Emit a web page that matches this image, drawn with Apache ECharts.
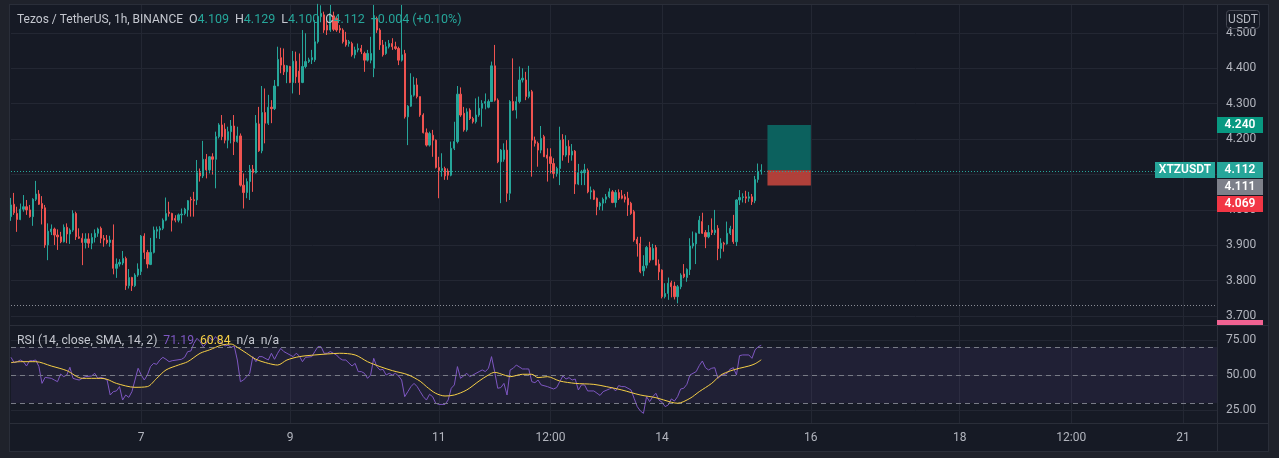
<!DOCTYPE html>
<html><head><meta charset="utf-8">
<script src="https://cdn.jsdelivr.net/npm/echarts@6/dist/echarts.min.js"></script>
<style>
html,body{margin:0;padding:0;background:#1f222b;width:1279px;height:458px;overflow:hidden}
#frame{position:absolute;left:9px;top:4px;width:1258px;height:446px;background:#161a25;border:1px solid #2a2e39}
.sep{position:absolute;background:#2a2e39}
#chart{position:absolute;left:0;top:0;width:1279px;height:458px}
</style></head><body>
<div id="frame"></div>
<div class="sep" style="left:9px;top:325px;width:1259px;height:1px"></div>
<div class="sep" style="left:9px;top:423px;width:1259px;height:1px"></div>
<div class="sep" style="left:1217px;top:4px;width:1px;height:447px"></div>
<div id="chart"></div>
<script>
// ---------- DATA ----------
// hourly categories: index 0 = day 5 06:00
const nCategories = 390;
const categories = Array.from({length: nCategories}, (_, i) => String(i));
const tickIdx = [42, 90, 138, 174, 210, 258, 306, 342, 378];
const tickLabels = ['7', '9', '11', '12:00', '14', '16', '18', '12:00', '21'];
const priceTicks = [3.7, 3.8, 3.9, 4.0, 4.1, 4.2, 4.3, 4.4, 4.5];
const rsiTicks = [25, 50, 75];
const symbolName = 'XTZUSDT';
const titleText = 'Tezos / TetherUS, 1h, BINANCE';
const rsiTitle = 'RSI (14, close, SMA, 14, 2)';

// [open, close, low, high]
const candles = [
[3.981,4.014,3.969,4.034],[4.016,3.992,3.986,4.048],[3.990,3.973,3.938,4.009],[3.973,4.002,3.971,4.018],
[4.002,4.009,3.995,4.042],[4.009,4.000,3.986,4.028],[4.000,3.981,3.978,4.014],[3.981,4.030,3.955,4.033],
[4.030,4.045,4.025,4.082],[4.045,4.016,4.014,4.056],[4.018,4.004,3.959,4.039],[4.006,3.901,3.893,4.014],
[3.901,3.940,3.858,3.962],[3.938,3.946,3.929,3.959],[3.946,3.929,3.901,3.950],[3.929,3.924,3.887,3.945],
[3.924,3.910,3.906,3.938],[3.910,3.951,3.908,3.959],[3.951,3.932,3.906,3.962],[3.932,3.943,3.904,3.948],
[3.943,3.990,3.938,3.999],[3.990,3.924,3.915,3.995],[3.924,3.920,3.918,3.948],[3.920,3.908,3.844,3.934],
[3.908,3.918,3.891,3.934],[3.918,3.906,3.893,3.934],[3.906,3.922,3.889,3.934],[3.922,3.934,3.908,3.945],
[3.934,3.946,3.924,3.950],[3.948,3.920,3.906,3.953],[3.920,3.915,3.896,3.929],[3.915,3.908,3.903,3.929],
[3.908,3.915,3.896,3.927],[3.915,3.835,3.818,3.959],[3.835,3.847,3.808,3.863],[3.847,3.852,3.840,3.861],
[3.850,3.863,3.844,3.884],[3.863,3.786,3.774,3.868],[3.786,3.809,3.778,3.833],[3.809,3.786,3.771,3.811],
[3.786,3.816,3.782,3.821],[3.816,3.833,3.811,3.849],[3.826,3.926,3.816,3.929],[3.926,3.880,3.861,3.934],
[3.880,3.847,3.835,3.887],[3.846,3.880,3.844,3.921],[3.880,3.943,3.877,3.953],[3.940,3.945,3.920,3.953],
[3.943,3.948,3.918,3.954],[3.948,3.971,3.943,3.976],[3.971,3.990,3.968,4.035],[3.994,3.990,3.981,4.023],
[3.990,3.971,3.939,3.992],[3.976,3.971,3.965,3.985],[3.971,3.986,3.965,3.990],[3.986,3.988,3.962,4.004],
[3.990,4.002,3.985,4.006],[4.000,4.026,3.981,4.028],[4.030,4.028,3.981,4.037],[4.029,4.026,3.981,4.051],
[4.028,4.105,4.014,4.141],[4.105,4.096,4.080,4.117],[4.096,4.143,4.090,4.195],[4.143,4.113,4.089,4.158],
[4.113,4.150,4.103,4.152],[4.150,4.143,4.100,4.160],[4.143,4.207,4.061,4.221],[4.207,4.240,4.202,4.245],
[4.240,4.207,4.197,4.268],[4.228,4.197,4.188,4.245],[4.197,4.221,4.174,4.235],[4.221,4.237,4.188,4.254],
[4.237,4.193,4.155,4.268],[4.193,4.209,4.190,4.235],[4.209,4.070,4.066,4.216],[4.070,4.049,4.004,4.103],
[4.049,4.080,4.033,4.089],[4.080,4.115,4.028,4.127],[4.115,4.105,4.051,4.127],[4.105,4.245,4.103,4.268],
[4.243,4.167,4.164,4.291],[4.167,4.275,4.160,4.350],[4.275,4.245,4.188,4.343],[4.245,4.290,4.240,4.325],
[4.290,4.286,4.245,4.310],[4.286,4.350,4.282,4.367],[4.350,4.425,4.350,4.461],[4.430,4.409,4.386,4.458],
[4.409,4.390,4.381,4.456],[4.390,4.407,4.358,4.409],[4.405,4.360,4.358,4.407],[4.360,4.420,4.329,4.449],
[4.420,4.376,4.358,4.447],[4.392,4.360,4.325,4.442],[4.360,4.405,4.358,4.508],[4.405,4.419,4.400,4.499],
[4.419,4.424,4.415,4.430],[4.424,4.430,4.412,4.452],[4.424,4.475,4.418,4.536],[4.475,4.546,4.470,4.582],
[4.546,4.555,4.530,4.578],[4.551,4.508,4.500,4.560],[4.522,4.508,4.494,4.536],[4.508,4.555,4.503,4.579],
[4.548,4.510,4.505,4.560],[4.541,4.508,4.503,4.546],[4.513,4.508,4.500,4.522],[4.508,4.475,4.470,4.513],
[4.480,4.466,4.461,4.503],[4.470,4.475,4.461,4.480],[4.470,4.438,4.433,4.475],[4.438,4.452,4.428,4.461],
[4.452,4.456,4.445,4.470],[4.456,4.447,4.440,4.466],[4.442,4.423,4.390,4.447],[4.423,4.442,4.419,4.452],
[4.423,4.442,4.414,4.489],[4.400,4.541,4.375,4.579],[4.541,4.508,4.500,4.546],[4.508,4.466,4.452,4.513],
[4.466,4.438,4.433,4.480],[4.442,4.461,4.438,4.475],[4.461,4.470,4.456,4.480],[4.470,4.461,4.452,4.485],
[4.461,4.456,4.452,4.475],[4.456,4.423,4.409,4.461],[4.423,4.438,4.419,4.579],[4.442,4.263,4.258,4.452],
[4.263,4.293,4.183,4.296],[4.293,4.324,4.291,4.386],[4.324,4.353,4.320,4.376],[4.353,4.320,4.315,4.372],
[4.320,4.268,4.263,4.320],[4.268,4.218,4.216,4.273],[4.218,4.183,4.179,4.230],[4.183,4.216,4.179,4.221],
[4.211,4.197,4.150,4.226],[4.197,4.120,4.117,4.199],[4.120,4.111,4.033,4.150],[4.111,4.117,4.094,4.160],
[4.117,4.096,4.085,4.122],[4.110,4.098,4.085,4.117],[4.098,4.174,4.095,4.193],[4.174,4.193,4.169,4.249],
[4.193,4.327,4.188,4.350],[4.327,4.268,4.263,4.346],[4.273,4.226,4.221,4.291],[4.226,4.277,4.221,4.287],
[4.282,4.258,4.254,4.287],[4.258,4.249,4.244,4.263],[4.249,4.268,4.244,4.315],[4.268,4.287,4.263,4.320],
[4.287,4.301,4.235,4.310],[4.301,4.306,4.284,4.329],[4.290,4.306,4.287,4.312],[4.306,4.407,4.306,4.419],
[4.407,4.310,4.306,4.466],[4.310,4.136,4.132,4.315],[4.136,4.169,4.019,4.172],[4.143,4.169,4.136,4.188],
[4.169,4.047,4.023,4.197],[4.047,4.306,4.028,4.310],[4.306,4.282,4.280,4.428],[4.282,4.306,4.258,4.320],
[4.306,4.367,4.301,4.405],[4.367,4.372,4.360,4.400],[4.367,4.320,4.310,4.390],[4.320,4.334,4.315,4.407],
[4.334,4.197,4.094,4.339],[4.197,4.188,4.179,4.207],[4.188,4.169,4.122,4.193],[4.169,4.202,4.160,4.237],
[4.207,4.150,4.150,4.212],[4.155,4.146,4.080,4.174],[4.150,4.131,4.103,4.174],[4.131,4.103,4.089,4.146],
[4.103,4.117,4.094,4.122],[4.117,4.197,4.070,4.235],[4.199,4.155,4.139,4.214],[4.155,4.180,4.150,4.211],
[4.179,4.155,4.133,4.197],[4.155,4.166,4.139,4.186],[4.166,4.073,4.045,4.169],[4.073,4.105,4.070,4.130],
[4.105,4.108,4.070,4.113],[4.105,4.113,4.070,4.130],[4.111,4.051,4.047,4.117],[4.051,4.054,4.030,4.066],
[4.054,4.030,4.028,4.058],[4.033,4.009,3.985,4.035],[4.011,4.019,4.000,4.023],[4.019,4.030,3.998,4.035],
[4.030,4.037,4.019,4.045],[4.037,4.051,4.033,4.061],[4.051,4.021,4.019,4.056],[4.021,4.049,4.007,4.056],
[4.049,4.033,4.028,4.058],[4.040,4.033,4.030,4.056],[4.037,4.030,4.021,4.045],[4.033,4.014,3.983,4.051],
[4.019,3.990,3.986,4.023],[3.995,3.915,3.910,4.000],[3.917,3.904,3.868,3.924],[3.905,3.825,3.821,3.924],
[3.828,3.841,3.813,3.872],[3.844,3.894,3.835,3.898],[3.894,3.858,3.851,3.910],[3.860,3.891,3.858,3.904],
[3.894,3.844,3.844,3.901],[3.847,3.825,3.802,3.860],[3.830,3.755,3.750,3.832],[3.755,3.764,3.750,3.793],
[3.764,3.793,3.746,3.809],[3.794,3.783,3.753,3.800],[3.785,3.755,3.747,3.797],[3.755,3.783,3.736,3.788],
[3.783,3.816,3.776,3.821],[3.819,3.811,3.807,3.847],[3.809,3.832,3.797,3.835],[3.832,3.898,3.816,3.920],
[3.898,3.906,3.891,3.939],[3.904,3.934,3.847,3.936],[3.934,3.971,3.932,3.983],[3.967,3.934,3.932,3.992],
[3.936,3.924,3.892,3.943],[3.924,3.936,3.920,3.957],[3.943,3.936,3.929,3.976],[3.936,3.943,3.929,4.000],
[3.948,3.891,3.858,3.957],[3.891,3.906,3.863,3.920],[3.906,3.903,3.882,3.910],[3.904,3.934,3.902,3.967],
[3.934,3.948,3.929,3.955],[3.945,3.910,3.904,3.986],[3.910,4.028,3.898,4.030],[4.028,4.035,4.014,4.056],
[4.035,4.037,4.021,4.047],[4.037,4.033,4.019,4.054],[4.033,4.037,4.023,4.051],[4.037,4.023,4.014,4.045],
[4.026,4.086,4.019,4.096],[4.086,4.108,4.077,4.131],[4.109,4.112,4.100,4.129]
];

// RSI readings: [category index, value]
const rsiPoints = [
[0,62.6],[1,58.8],[2,59.5],[3,60.7],[4,59.5],[5,56.4],[6,60.2],[7,60.2],[8,60.7],[9,56],[10,44],[11,48.3],
[13,47.6],[14,46.4],[15,45.2],[16,50.7],[17,48.8],[18,50],[19,55.5],[20,47.6],[21,46.9],[22,46.4],[23,47.6],
[24,48.8],[26,49.3],[27,51.2],[28,47.6],[29,48.3],[30,47.6],[31,46.4],[32,35.7],[33,38.1],[34,38.6],[35,41.7],
[36,32.1],[37,35.7],[38,34],[39,38.1],[41,54.8],[42,50],[43,46.4],[44,50],[45,56],[46,58.3],[47,57.6],[48,60.7],
[49,62.6],[50,61.2],[51,59.5],[52,60.2],[55,61.2],[56,62.6],[57,66.7],[58,67.1],[59,72.6],[60,76.2],[61,73.8],
[62,70.2],[63,72.6],[64,76.9],[65,74.5],[66,77.4],[67,74.5],[69,70.7],[70,71.4],[71,69.8],[72,70.7],[73,60.7],
[74,45.2],[75,46.4],[76,48.8],[77,51.2],[78,63.1],[79,59.5],[80,63.1],[81,63.1],[83,60.7],[84,65.5],[85,61.2],
[86,65.5],[87,69],[88,66.7],[89,65.5],[90,64.3],[91,63.1],[92,65.5],[93,63.6],[94,59.5],[95,62.6],[97,63.1],
[98,66.7],[99,70.2],[100,70.2],[101,65.5],[102,65.5],[103,66.7],[104,65.5],[105,64.3],[106,61.9],[107,60.7],
[108,60.7],[110,56.4],[111,58.3],[112,52.4],[113,52.4],[114,51.2],[115,47.6],[116,50],[117,61.9],[118,56],
[119,53.6],[120,54],[121,50],[122,51.2],[123,50],[124,51.2],[125,49.3],[126,46.4],[127,34.5],[128,38.1],
[129,41.7],[130,44],[131,41.7],[132,38.1],[133,34.5],[134,32.1],[135,36.2],[136,34.5],[137,29.8],[138,29],
[140,29],[141,32.1],[142,40.5],[143,42.9],[144,56],[145,47.6],[147,51.2],[148,48.8],[149,50],[151,52.4],
[152,53.6],[153,52.4],[154,54.8],[155,63.1],[156,52.4],[157,40.5],[158,41],[159,44],[160,35.7],[161,53.6],
[162,54.8],[163,57.1],[165,54.3],[166,54.3],[167,54.3],[168,45.2],[169,44.5],[170,46.4],[171,42.9],[173,41.7],
[175,40],[176,41],[177,45.2],[178,49.3],[179,47.1],[180,48.1],[181,46.4],[182,47.1],[183,39.3],[184,42.9],
[185,42.9],[186,38.6],[188,38.6],[190,35.4],[191,38.1],[193,40],[194,41],[195,38.6],[196,42.4],[197,41.7],
[198,41.7],[200,39.3],[201,33.3],[202,27.4],[203,24.3],[204,22.6],[205,34.5],[206,31],[207,34.5],[208,36.9],
[209,32.1],[210,30.5],[211,27.4],[212,28.6],[213,32.9],[214,31.4],[215,34.5],[216,40],[217,40.5],[218,43.3],
[219,50],[221,52.4],[222,56.7],[223,60],[224,55.2],[225,53.6],[226,54.8],[227,55.2],[228,47.6],[229,49.5],
[231,51.2],[232,54.3],[233,55.2],[234,50],[235,63.8],[236,64.3],[238,64.3],[239,61.9],[240,67.9],[241,70.2],
[242,71.19]
];

// RSI-based SMA readings: [category index, value]
const rsiMaPoints = [
[0,58.8],[3,59.5],[8,59.5],[13,56.4],[18,53.1],[23,47.6],[29,47.6],[31,46.9],[34,44],[40,41.2],[44,41.7],
[47,47.6],[50,53.6],[54,57.1],[57,59.5],[61,65.5],[64,67.9],[68,71.4],[71,72.1],[73,69.8],[76,65.5],[79,61.2],
[83,58.3],[86,57.1],[89,60.7],[93,63.1],[98,64.3],[102,65],[106,65.5],[111,64.3],[115,59.5],[119,56],[123,53.1],
[128,50.2],[132,45.5],[134,41.7],[137,36.9],[140,35],[143,35.7],[147,39.3],[151,45.7],[154,50],[156,51.9],
[159,50],[161,48.8],[165,50.5],[168,50.5],[170,48.1],[173,48.8],[177,45.7],[182,44],[188,43.3],[192,41.7],
[197,39.3],[203,35.7],[208,33.8],[213,30.5],[215,29.8],[219,33.3],[222,38.1],[226,44],[229,50],[232,52.9],
[235,54.8],[238,56.4],[240,58.0],[242,60.84]
];

const lastPrice = 4.112;
const targetPrice = 4.240;
const stopPrice = 4.069;
const grayPrice = 4.111;
const alertPrice = 3.667;
const lowDotted = 3.734;
const boxFrom = 244, boxTo = 258;

// ---------- CHART ----------
const FONT = 'Roboto, "Noto Sans", sans-serif';
const TXT = '#b2b5be';
const GRID = '#232733';
const chart = echarts.init(document.getElementById('chart'), null, {renderer: 'canvas'});

const last = candles[candles.length - 1];
const prevClose = candles[candles.length - 2][1];
const chg = last[1] - prevClose;
const chgTxt = (chg >= 0 ? '+' : '') + chg.toFixed(3) + ' (' + (chg >= 0 ? '+' : '') + (chg / prevClose * 100).toFixed(2) + '%)';
const rsiLast = rsiPoints[rsiPoints.length - 1][1];
const maLast = rsiMaPoints[rsiMaPoints.length - 1][1];
const isTick = (i) => tickIdx.indexOf(i) >= 0;

const option = {
  animation: false,
  backgroundColor: 'transparent',
  textStyle: {fontFamily: FONT},
  title: [
    {left: 17, top: 13, padding: 0,
     text: '{n|' + titleText + '}  {k|O}{v|' + last[0].toFixed(3) + '}  {k|H}{v|' + last[3].toFixed(3) +
           '}  {k|L}{v|' + last[2].toFixed(3) + '}  {k|C}{v|' + last[1].toFixed(3) + '}  {v|' + chgTxt + '}',
     textStyle: {fontFamily: FONT, fontSize: 12, fontWeight: 'normal',
       rich: {n: {color: '#c4c7cf', fontSize: 12, fontFamily: FONT},
              k: {color: '#c4c7cf', fontSize: 12.5, fontFamily: FONT},
              v: {color: '#26a69a', fontSize: 12.5, fontFamily: FONT}}}},
    {left: 17, top: 335, padding: 0,
     text: '{n|' + rsiTitle + '}  {p|' + rsiLast.toFixed(2) + '}  {y|' + maLast.toFixed(2) + '}  {n|n/a}  {n|n/a}',
     textStyle: {fontFamily: FONT, fontSize: 12, fontWeight: 'normal',
       rich: {n: {color: '#c4c7cf', fontSize: 12.2, fontFamily: FONT},
              p: {color: '#7e57c2', fontSize: 12.2, fontFamily: FONT},
              y: {color: '#f7d046', fontSize: 12.2, fontFamily: FONT}}}}
  ],
  grid: [
    {left: 11, right: 62, top: 5, height: 320},
    {left: 11, right: 62, top: 325, height: 98}
  ],
  xAxis: [
    {gridIndex: 0, type: 'category', data: categories, boundaryGap: false,
     axisLine: {show: false}, axisTick: {show: false}, axisLabel: {show: false},
     splitLine: {show: true, interval: isTick, lineStyle: {color: GRID, width: 1}}},
    {gridIndex: 1, type: 'category', data: categories, boundaryGap: false,
     axisLine: {show: false}, axisTick: {show: false},
     axisLabel: {show: true, interval: isTick, color: TXT, fontSize: 12, margin: 9, fontFamily: FONT,
       formatter: (v) => { const k = tickIdx.indexOf(+v); return k >= 0 ? tickLabels[k] : ''; }},
     splitLine: {show: true, interval: isTick, lineStyle: {color: GRID, width: 1}}}
  ],
  yAxis: [
    {gridIndex: 0, type: 'value', position: 'right', min: 3.6749, max: 4.5788, scale: true,
     axisLine: {show: false}, axisTick: {show: false, customValues: priceTicks},
     axisLabel: {customValues: priceTicks, color: TXT, fontSize: 12, margin: 9, fontFamily: FONT,
       formatter: (v) => v.toFixed(3)},
     splitLine: {show: true, lineStyle: {color: GRID, width: 1}}},
    {gridIndex: 1, type: 'value', position: 'right', min: 15.7, max: 85.7,
     axisLine: {show: false}, axisTick: {show: false, customValues: rsiTicks},
     axisLabel: {customValues: rsiTicks, color: TXT, fontSize: 12, margin: 9, fontFamily: FONT,
       formatter: (v) => v.toFixed(2)},
     splitLine: {show: true, lineStyle: {color: GRID, width: 1}}}
  ],
  series: [
    {type: 'candlestick', xAxisIndex: 0, yAxisIndex: 0, data: candles, barWidth: 1.7,
     itemStyle: {color: '#26a69a', color0: '#ef5350', borderColor: '#26a69a', borderColor0: '#ef5350', borderWidth: 1},
     markArea: {silent: true, label: {show: false},
       data: [
         [{xAxis: categories[boxFrom], yAxis: targetPrice, itemStyle: {color: '#0c615e'}},
          {xAxis: categories[boxTo], yAxis: lastPrice}],
         [{xAxis: categories[boxFrom], yAxis: lastPrice, itemStyle: {color: '#b0403a'}},
          {xAxis: categories[boxTo], yAxis: stopPrice}]
       ]},
     markLine: {silent: true, symbol: ['none', 'none'], label: {show: false}, z: 10,
       data: [
         {yAxis: lastPrice, lineStyle: {color: '#26a69a', type: [1, 2], width: 1, opacity: 1}},
         {yAxis: lowDotted, lineStyle: {color: '#8a8d96', type: [1, 2], width: 1}}
       ]}},
    {type: 'line', xAxisIndex: 1, yAxisIndex: 1, data: rsiPoints, symbol: 'none', z: 4,
     lineStyle: {color: '#7e57c2', width: 1}, itemStyle: {color: '#7e57c2'},
     markArea: {silent: true, itemStyle: {color: 'rgba(126,87,194,0.1)'},
       data: [[{yAxis: 70}, {yAxis: 30}]]},
     markLine: {silent: true, symbol: ['none', 'none'], label: {show: false},
       lineStyle: {color: '#787b86', type: [5, 4], width: 1},
       data: [{yAxis: 70}, {yAxis: 50}, {yAxis: 30}]}},
    {type: 'line', xAxisIndex: 1, yAxisIndex: 1, data: rsiMaPoints, symbol: 'none', z: 5, smooth: 0.3,
     lineStyle: {color: '#f7d046', width: 1}, itemStyle: {color: '#f7d046'}}
  ]
};
chart.setOption(option);

// price tags on the right scale, positioned through the y axis
const paneBottom = 325;
const tags = [
  {v: targetPrice, bg: '#089981'},
  {v: lastPrice, bg: '#26a69a', sym: symbolName},
  {v: grayPrice, bg: '#7d808a'},
  {v: stopPrice, bg: '#f23645'}
];
const graphics = [];
let prevY = -1e9;
tags.forEach(t => {
  let y = chart.convertToPixel({yAxisIndex: 0}, t.v);
  if (y < prevY + 17) y = prevY + 17;
  prevY = y;
  graphics.push({type: 'rect', shape: {x: 1217, y: Math.round(y) - 8, width: 46, height: 16}, style: {fill: t.bg}, z: 100});
  graphics.push({type: 'text', x: 1240, y: Math.round(y), z: 101,
    style: {text: t.v.toFixed(3), fill: '#ffffff', font: '600 12px ' + FONT, textAlign: 'center', textVerticalAlign: 'middle'}});
  if (t.sym) {
    graphics.push({type: 'rect', shape: {x: 1155, y: Math.round(y) - 8, width: 60, height: 16}, style: {fill: t.bg}, z: 100});
    graphics.push({type: 'text', x: 1185, y: Math.round(y), z: 101,
      style: {text: t.sym, fill: '#ffffff', font: '600 12px ' + FONT, textAlign: 'center', textVerticalAlign: 'middle'}});
  }
});
// alert tag: partly hidden below the price pane
const ay = Math.round(chart.convertToPixel({yAxisIndex: 0}, alertPrice)) - 8;
if (ay < paneBottom) {
  graphics.push({type: 'rect', shape: {x: 1217, y: ay, width: 46, height: paneBottom - ay}, style: {fill: '#f06292'}, z: 100});
}
graphics.push({type: 'rect', shape: {x: 1226.5, y: 10.5, width: 33, height: 18, r: 3}, style: {fill: 'none', stroke: '#434651', lineWidth: 1}, z: 100});
graphics.push({type: 'text', x: 1243, y: 19.5, z: 101, style: {text: 'USDT', fill: TXT, font: '12px ' + FONT, textAlign: 'center', textVerticalAlign: 'middle'}});
chart.setOption({graphic: graphics});
</script>
</body></html>
